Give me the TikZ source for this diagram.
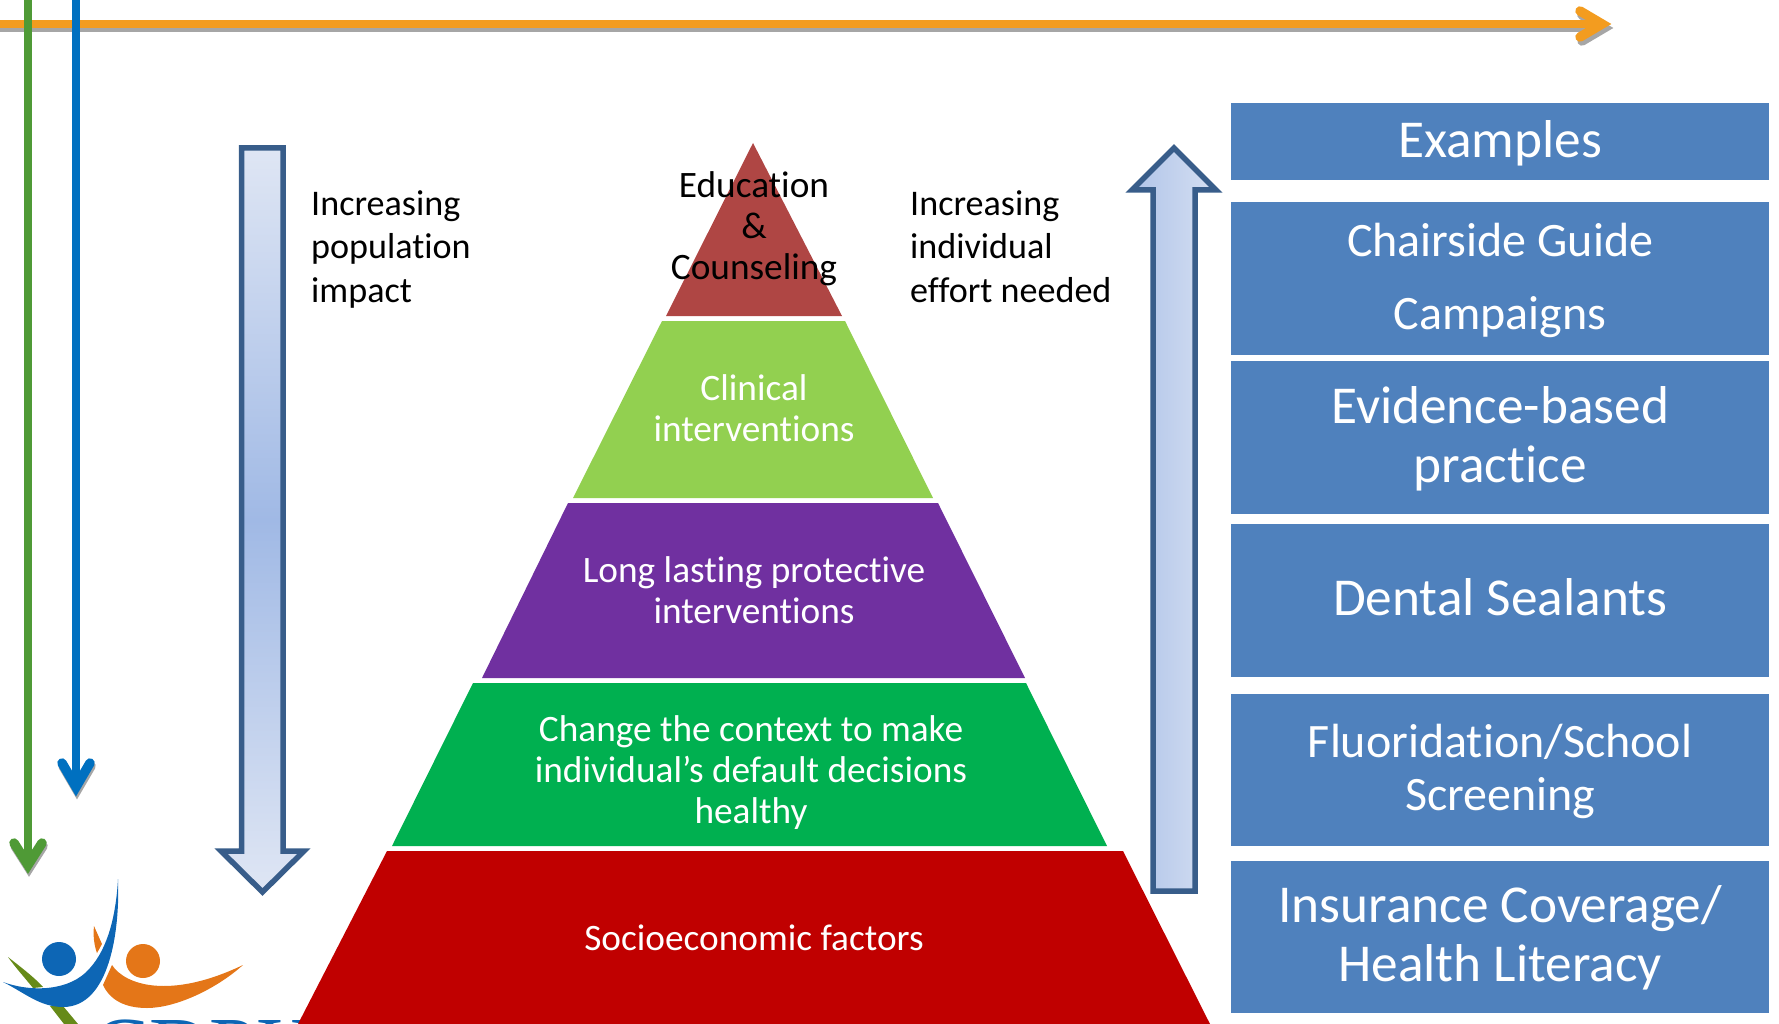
\documentclass[tikz,border=0pt]{standalone}
\usepackage{fontspec}
\setmainfont{Carlito}[Ligatures=NoCommon]
\newfontfamily\logofont{Liberation Serif}
\definecolor{boxblue}{HTML}{4F81BD}
\definecolor{orangeline}{HTML}{F39C1F}
\definecolor{greenline}{HTML}{4F9A36}
\definecolor{blueline}{HTML}{0070C0}
\definecolor{shadowgray}{HTML}{A6A6A6}
\definecolor{blockedge}{HTML}{385D8A}
\definecolor{blocklight}{HTML}{DFE6F4}
\definecolor{blockmid}{HTML}{A0B9E5}
\definecolor{logoblue}{HTML}{0D66B5}
\definecolor{logoorange}{HTML}{E47618}
\definecolor{logogreen}{HTML}{668A18}
\tikzset{
  exbox/.style={fill=boxblue,draw=none,minimum width=538pt,inner sep=0pt,anchor=north west},
  extext/.style={text=white,align=center,inner sep=0pt,font=\fontsize{53.3}{59}\selectfont},
  pyrtext/.style={text=white,align=center,font=\fontsize{37.3}{41}\selectfont},
  sidelabel/.style={text=black,align=left,anchor=north west,inner sep=0pt,font=\fontsize{36.1}{43.3}\selectfont},
  arrowhead/.style={line width=9.5pt,line join=miter,line cap=round},
  blockarrow/.style={draw=blockedge,line width=5.5pt,line join=miter,miter limit=10}
}
\begin{document}
\begin{tikzpicture}[x=1pt,y=-1pt]
\useasboundingbox (0,0) rectangle (1779,1024);
\clip (0,0) rectangle (1779,1024);
% free ends of the three long arrows
\coordinate (oS) at (-5,24); \coordinate (oT) at (1602,24);
\coordinate (oU) at (1580,11); \coordinate (oD) at (1580,37);
\coordinate (gS) at (28,-5); \coordinate (gT) at (28,865);
\coordinate (gL) at (14,843); \coordinate (gR) at (42,843);
\coordinate (bS) at (76,-5); \coordinate (bT) at (76,787);
\coordinate (bL) at (62,763); \coordinate (bR) at (90,763);
% shadows
\draw[shadowgray,line width=8pt] ([yshift=-4pt]oS) -- ([yshift=-4pt]oT);
\draw[shadowgray,arrowhead] ([shift={(2pt,-4pt)}]oU) -- ([shift={(2pt,-4pt)}]oT) -- ([shift={(2pt,-4pt)}]oD);
\draw[shadowgray,arrowhead] ([shift={(1pt,-3pt)}]gL) -- ([shift={(1pt,-3pt)}]gT) -- ([shift={(1pt,-3pt)}]gR);
\draw[shadowgray,arrowhead] ([shift={(1pt,-3pt)}]bL) -- ([shift={(1pt,-3pt)}]bT) -- ([shift={(1pt,-3pt)}]bR);
% orange
\draw[orangeline,line width=8pt] (oS) -- (oT);
\draw[orangeline,arrowhead] (oU) -- (oT) -- (oD);
% green, blue
\draw[greenline,line width=8pt] (gS) -- (gT);
\draw[greenline,arrowhead] (gL) -- (gT) -- (gR);
\draw[blueline,line width=8pt] (bS) -- (bT);
\draw[blueline,arrowhead] (bL) -- (bT) -- (bR);
% block arrows
\path[blockarrow,top color=blocklight,bottom color=blocklight,middle color=blockmid]
  (241.5,148) -- (283,148) -- (283,851) -- (304,851) -- (262.5,892) -- (221,851) -- (241.5,851) -- cycle;
\path[blockarrow,left color=blockmid!75!blocklight,right color=blocklight!85!blockmid]
  (1153,891) -- (1195,891) -- (1195,190) -- (1216,190) -- (1174,148) -- (1132,190) -- (1153,190) -- cycle;
% logo
\node[anchor=base west,inner sep=0pt,text=logoblue,font=\logofont\fontsize{84}{84}\selectfont] (logotext) at (93,1075) {CDPH};
\fill[logogreen] (8,957) .. controls (22,968) and (35,978) .. (43,987) -- (33,988) .. controls (25,978) and (15,967) .. (8,957) -- cycle;
\fill[logogreen] (50,1006) -- (63,1006) -- (78,1024) -- (64,1024) -- cycle;
\fill[logoorange] (94,926) -- (102,944) -- (97,953) .. controls (94,945) and (93,935) .. (94,926) -- cycle;
\fill[logoorange] (112,965) .. controls (125,985) and (170,1000) .. (243,965) .. controls (215,990) and (175,1008) .. (147,1008) .. controls (125,1008) and (110,1000) .. (103,985) -- cycle;
\fill[logoblue] (118,879) .. controls (120,930) and (110,1007) .. (63,1007) .. controls (40,1007) and (25,993) .. (3,982) .. controls (30,992) and (70,992) .. (90,968) .. controls (108,948) and (116,915) .. (118,879) -- cycle;
\fill[logoblue] (59,959) circle (17pt);
\fill[logoorange] (143,961) circle (17pt);
% pyramid
\fill[fill={rgb,255:red,175;green,70;blue,68}] (753,143) -- (842,316) -- (666,316) -- cycle;
\fill[fill={rgb,255:red,146;green,208;blue,80}] (662,321) -- (845,321) -- (933,498) -- (573,498) -- cycle;
\fill[fill={rgb,255:red,112;green,48;blue,160}] (568,503) -- (938,503) -- (1025,678) -- (482,678) -- cycle;
\fill[fill={rgb,255:red,0;green,176;blue,80}] (473,683) -- (1026,683) -- (1107,846) -- (392,846) -- cycle;
\fill[fill={rgb,255:red,192;green,0;blue,0}] (387,851) -- (1123,851) -- (1210,1024) -- (298,1024) -- cycle;
\node[align=center,text=black,font=\fontsize{37.3}{41}\selectfont] (educ) at (754,229) {Education\\\&\\Counseling};
\node[pyrtext] (clin) at (754,408) {Clinical\\interventions};
\node[pyrtext] (long) at (754,590) {Long lasting protective\\interventions};
\node[pyrtext] (chg) at (751,773) {Change the context to make\\individual’s default decisions\\healthy};
\node[pyrtext] (soc) at (754,938) {Socioeconomic factors};
% side labels
\node[sidelabel] (inc1) at (311,190.5) {Increasing\\population\\impact};
\node[sidelabel] (inc2) at (910,190.5) {Increasing\\individual\\effort needed};
% example boxes
\node[exbox,minimum height=77pt] (e1) at (1231,103) {};
\node[exbox,minimum height=153pt] (e2) at (1231,202) {};
\node[exbox,minimum height=153pt] (e3) at (1231,361) {};
\node[exbox,minimum height=153pt] (e4) at (1231,524) {};
\node[exbox,minimum height=152pt] (e5) at (1231,694) {};
\node[exbox,minimum height=152pt] (e6) at (1231,861) {};
\node[extext] (t1) at ([yshift=-2pt]e1.center) {Examples};
\node[extext,font=\fontsize{48}{72.6}\selectfont] (t2) at ([yshift=-2pt]e2.center) {Chairside Guide\\Campaigns};
\node[extext] (t3) at ([yshift=-1pt]e3.center) {Evidence-based\\practice};
\node[extext] (t4) at ([yshift=3.4pt]e4.center) {Dental Sealants};
\node[extext,font=\fontsize{48}{53.3}\selectfont] (t5) at ([yshift=-1pt]e5.center) {Fluoridation/School\\Screening};
\node[extext] (t6) at ([yshift=-1pt]e6.center) {Insurance Coverage/\\Health Literacy};
\end{tikzpicture}
\end{document}
